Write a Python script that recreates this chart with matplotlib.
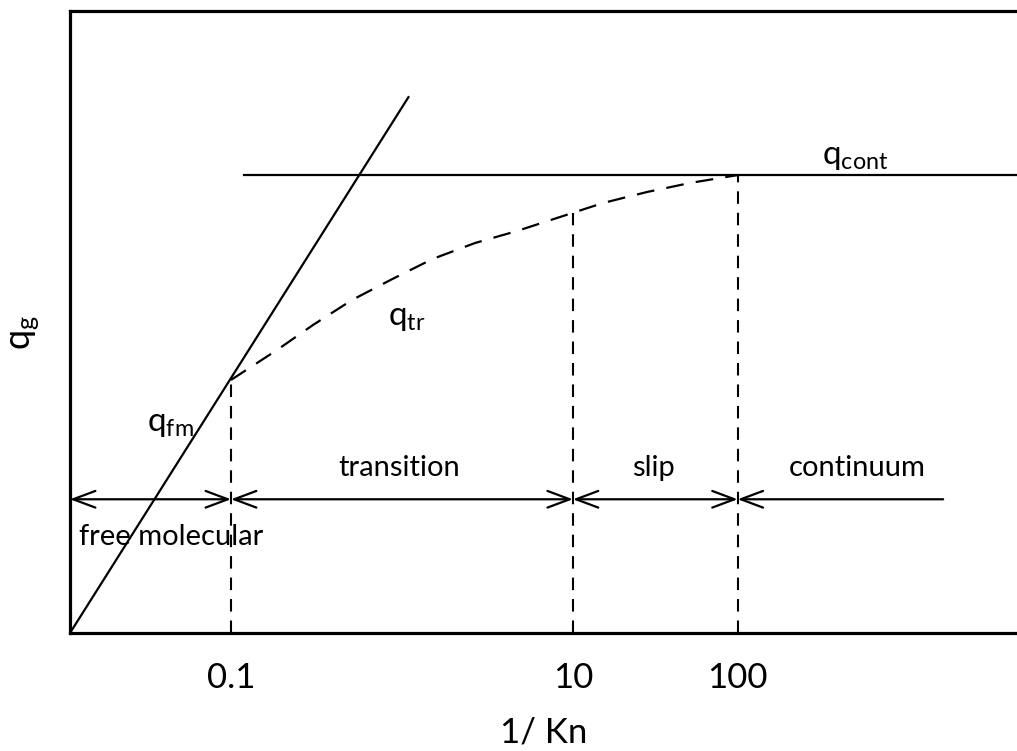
import numpy as np
import matplotlib.pyplot as plt

plt.rcParams['font.family'] = ['Lato', 'DejaVu Sans']
plt.rcParams['mathtext.fontset'] = 'custom'
plt.rcParams['mathtext.rm'] = 'Lato'
plt.rcParams['mathtext.it'] = 'Lato'

# schematic coordinates (arbitrary units, axis spans 0-100 both ways)
fm_x = [0.0, 35.8]
fm_y = [0.0, 86.3]

tr_x = [17.0, 21.86, 25.66, 29.78, 34.04, 38.28, 42.77, 47.20, 51.74, 56.28, 60.93, 65.47, 70.54]
tr_y = [40.68, 45.50, 49.52, 53.54, 56.91, 60.13, 62.70, 64.63, 66.88, 69.13, 70.90, 72.35, 73.63]

cont_x = [18.4, 100.0]
cont_y = 73.7

# regime boundaries and where they sit on the axis
bound_labels = ['0.1', '10', '100']
bound_x = [17.0, 53.1, 70.5]
bound_top = [40.7, 67.5, 73.7]

arrow_y = 21.5
regimes = ['free molecular', 'transition', 'slip', 'continuum']
regime_span = [(0.0, 17.0), (17.0, 53.1), (53.1, 70.5), (70.5, 92.2)]
regime_text = [(1.0, 15.4), (34.8, 26.5), (61.6, 26.5), (83.1, 26.5)]

fig = plt.figure(figsize=(10.17, 7.51), dpi=100)
ax = fig.add_axes([70 / 1017, 118 / 751, 947 / 1017, 622 / 751])
ax.set_xlim(0, 100)
ax.set_ylim(0, 100)

for side in ['left', 'bottom', 'top']:
    ax.spines[side].set_linewidth(2.3)
ax.spines['right'].set_visible(False)

ax.plot(fm_x, fm_y, color='black', lw=1.6, solid_capstyle='butt')
ax.plot(tr_x, tr_y, color='black', lw=1.6, linestyle=(0, (8, 5.5)))
ax.plot(cont_x, [cont_y, cont_y], color='black', lw=1.6, clip_on=False)

for bx, bt in zip(bound_x, bound_top):
    ax.plot([bx, bx], [0, bt], color='black', lw=1.5, linestyle=(0, (6, 4.3)))

arrow_kw = dict(color='black', lw=1.6, shrinkA=0, shrinkB=0, mutation_scale=20)
for i, (x0, x1) in enumerate(regime_span):
    style = '<->, head_length=0.8, head_width=0.3'
    if regimes[i] == 'continuum':
        style = '<-, head_length=0.8, head_width=0.3'
    ax.annotate('', xy=(x1, arrow_y), xytext=(x0, arrow_y),
                arrowprops=dict(arrowstyle=style, **arrow_kw))
    tx, ty = regime_text[i]
    ha = 'left' if i == 0 else 'center'
    ax.text(tx, ty, regimes[i], fontsize=21, ha=ha, va='center')

ax.text(10.6, 33.6, r'$\mathregular{q_{fm}}$', fontsize=24, ha='center', va='center')
ax.text(35.6, 50.6, r'$\mathregular{q_{tr}}$', fontsize=24, ha='center', va='center')
ax.text(82.9, 76.5, r'$\mathregular{q_{cont}}$', fontsize=24, ha='center', va='center')

ax.set_xticks(bound_x)
ax.set_xticklabels(bound_labels, fontsize=25)
ax.set_yticks([])
ax.tick_params(axis='x', length=0, pad=21)
ax.set_xlabel('1/ Kn', fontsize=25, labelpad=16)
ax.set_ylabel(r'$\mathregular{q_g}$', fontsize=26)
ax.yaxis.set_label_coords(-0.03, 0.484)

fig.savefig('out.png', dpi=100)
